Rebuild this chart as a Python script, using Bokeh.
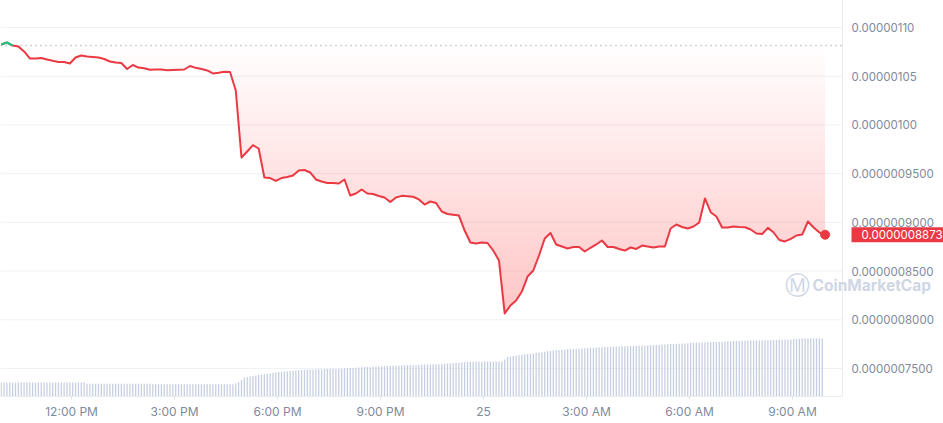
import numpy as np
from bokeh.plotting import figure
from bokeh.models import Range1d, Label, Span
from bokeh.core.properties import value
from bokeh.embed import file_html
from bokeh.resources import INLINE

# ---------------- data ----------------
TICK_HOURS = [12, 15, 18, 21, 24, 27, 30, 33]          # hours since 00:00 on the 24th
TICK_LABELS = ["12:00 PM", "3:00 PM", "6:00 PM", "9:00 PM", "25", "3:00 AM", "6:00 AM", "9:00 AM"]
Y_TICKS = [1.10e-6, 1.05e-6, 1.00e-6, 0.95e-6, 0.90e-6, 0.85e-6, 0.80e-6, 0.75e-6]
Y_LABELS = ["0.00000110", "0.00000105", "0.00000100", "0.0000009500",
            "0.0000009000", "0.0000008500", "0.0000008000", "0.0000007500"]
OPEN_PRICE = 1.0815e-6
LAST_LABEL = "0.0000008873"
START_HOUR = 9.95           # 09:57 on the 24th
PRICE_STEP_MIN = 10
VOL_STEP_MIN = 5

# price in units of 1e-6, one value every 10 minutes
PRICE_MICRO = [
    1.0826, 1.0846, 1.0815, 1.0805, 1.0754, 1.0682, 1.0682, 1.0687, 1.0672, 1.0658,
    1.0646, 1.0646, 1.0631, 1.0692, 1.0713, 1.0702, 1.0697, 1.0692, 1.0677, 1.0651,
    1.0641, 1.0636, 1.0574, 1.0615, 1.0589, 1.0581, 1.0567, 1.0569, 1.0570, 1.0561,
    1.0564, 1.0567, 1.0569, 1.0605, 1.0586, 1.0574, 1.0559, 1.0528, 1.0535, 1.0545,
    1.0543, 1.0353, 0.9666, 0.9727, 0.9792, 0.9758, 0.9460, 0.9455, 0.9425, 0.9455,
    0.9466, 0.9481, 0.9532, 0.9537, 0.9512, 0.9440, 0.9419, 0.9404, 0.9404, 0.9399,
    0.9440, 0.9276, 0.9296, 0.9337, 0.9296, 0.9291, 0.9271, 0.9255, 0.9209, 0.9255,
    0.9272, 0.9267, 0.9263, 0.9235, 0.9183, 0.9214, 0.9199, 0.9111, 0.9086, 0.9078,
    0.9070, 0.8916, 0.8793, 0.8783, 0.8793, 0.8788, 0.8711, 0.8609, 0.8065, 0.8147,
    0.8198, 0.8290, 0.8444, 0.8506, 0.8660, 0.8834, 0.8891, 0.8773, 0.8752, 0.8732,
    0.8747, 0.8747, 0.8701, 0.8739, 0.8773, 0.8814, 0.8747, 0.8747, 0.8727, 0.8711,
    0.8742, 0.8727, 0.8762, 0.8752, 0.8742, 0.8752, 0.8752, 0.8937, 0.8978, 0.8952,
    0.8937, 0.8958, 0.8999, 0.9245, 0.9104, 0.9060, 0.8947, 0.8947, 0.8958, 0.8952,
    0.8950, 0.8927, 0.8886, 0.8881, 0.8944, 0.8896, 0.8819, 0.8804, 0.8831, 0.8865,
    0.8875, 0.9009, 0.8947, 0.8896, 0.8873,
]

# volume (arbitrary units), one bar every 5 minutes
VOLUME = [
    1.40, 1.40, 1.40, 1.40, 1.40, 1.40, 1.40, 1.40, 1.40, 1.40,
    1.40, 1.40, 1.40, 1.40, 1.40, 1.40, 1.40, 1.40, 1.40, 1.40,
    1.40, 1.40, 1.40, 1.40, 1.40, 1.40, 1.40, 1.40, 1.40, 1.40,
    1.28, 1.28, 1.28, 1.28, 1.28, 1.28, 1.28, 1.28, 1.28, 1.28,
    1.28, 1.28, 1.28, 1.28, 1.28, 1.28, 1.28, 1.28, 1.28, 1.28,
    1.28, 1.28, 1.28,
    1.22, 1.22, 1.22, 1.22, 1.22, 1.22, 1.22, 1.22, 1.22, 1.22,
    1.22, 1.22, 1.22, 1.22, 1.22, 1.22, 1.22, 1.22, 1.22, 1.22,
    1.22, 1.22, 1.22, 1.22, 1.22, 1.22, 1.22, 1.22, 1.22,
    1.30, 1.43, 1.65, 1.87, 1.95, 2.00, 2.05, 2.10, 2.15, 2.18,
    2.22, 2.28, 2.32, 2.37, 2.40, 2.44, 2.47, 2.50, 2.52, 2.55,
    2.58, 2.60, 2.62, 2.64, 2.66, 2.68, 2.69, 2.70,
    2.71, 2.72, 2.73, 2.74, 2.75, 2.75, 2.76, 2.76, 2.77, 2.77,
    2.80, 2.82, 2.84, 2.86, 2.88, 2.90, 2.92, 2.94, 2.95, 2.96, 2.97,
    2.98, 3.00, 3.02, 3.03, 3.05, 3.06, 3.07, 3.08, 3.10,
    3.10, 3.12, 3.13, 3.14, 3.15, 3.16, 3.17, 3.18, 3.19, 3.20, 3.21, 3.22, 3.22, 3.23,
    3.25, 3.27, 3.29, 3.31, 3.33, 3.35, 3.37, 3.40, 3.45, 3.48,
    3.50, 3.50, 3.50, 3.50, 3.50, 3.50, 3.50, 3.50, 3.50, 3.50, 3.50, 3.50,
    3.70, 3.95, 4.00, 4.05, 4.10, 4.15, 4.18, 4.22,
    4.25, 4.28, 4.31, 4.34, 4.37, 4.40, 4.45,
    4.53, 4.56, 4.59, 4.62, 4.65, 4.67,
    4.70, 4.72, 4.74, 4.76, 4.78, 4.79, 4.80,
    4.82, 4.84, 4.86, 4.88, 4.90, 4.92, 4.93,
    4.95, 4.96, 4.98, 4.99, 5.00, 5.01, 5.02, 5.03, 5.03,
    5.05, 5.06, 5.08, 5.09, 5.10, 5.11, 5.12, 5.13, 5.13,
    5.15, 5.17, 5.19, 5.21, 5.23, 5.24, 5.26, 5.27,
    5.28, 5.30, 5.31, 5.33, 5.34, 5.36, 5.37, 5.39, 5.40,
    5.41, 5.42, 5.43, 5.44, 5.45, 5.46, 5.48, 5.50, 5.52, 5.53,
    5.54, 5.55, 5.56, 5.57, 5.58, 5.58, 5.59, 5.59, 5.60, 5.60,
    5.61, 5.62, 5.63, 5.64, 5.65, 5.66, 5.67, 5.68, 5.69, 5.70, 5.70,
    5.72, 5.75, 5.78, 5.80, 5.80, 5.80, 5.80, 5.80, 5.80, 5.80, 5.80,
]

# ---------------- layout / styling ----------------
X_START, X_END = 9.93, 37.399        # visible hours across the whole width
X_EDGE = 34.457                      # right edge of the chart area (hours)
X_LABEL = 34.719                     # where price labels start (hours)
Y_BOTTOM, Y_TOP = 0.72126e-6, 1.12771e-6
VOL_TOP = 39.6

RED = "#ea3943"
GREEN = "#16c784"
LABEL_GRAY = "#808a9d"
GRID = "#eff2f5"
EDGE = "#e8ebef"
VOL_COLOR = "#c6cfe1"
FONT = "Inter"

price = np.array(PRICE_MICRO) * 1e-6
t_price = START_HOUR + np.arange(len(price)) * PRICE_STEP_MIN / 60.0
t_vol = START_HOUR + np.arange(len(VOLUME)) * VOL_STEP_MIN / 60.0

p = figure(width=943, height=423,
           x_range=Range1d(X_START, X_END),
           y_range=Range1d(Y_BOTTOM, Y_TOP),
           y_axis_location=None,
           output_backend="svg", toolbar_location=None,
           min_border_left=0, min_border_right=0,
           min_border_top=0, min_border_bottom=27)
p.extra_y_ranges = {"vol": Range1d(0, VOL_TOP)}
p.outline_line_color = None
p.background_fill_color = "white"
p.border_fill_color = "white"
p.xgrid.visible = False
p.ygrid.visible = False

# horizontal grid lines (stop at the chart's right edge)
n_ticks = len(Y_TICKS)
p.segment(x0=[X_START] * n_ticks, x1=[X_EDGE] * n_ticks, y0=Y_TICKS, y1=Y_TICKS,
          line_color=GRID, line_width=1)
# right edge of chart area
p.add_layout(Span(location=X_EDGE, dimension="height", line_color=EDGE, line_width=1))

# volume bars
p.vbar(x=t_vol, top=VOLUME, bottom=0, width=0.45 * VOL_STEP_MIN / 60.0,
       y_range_name="vol", fill_color=VOL_COLOR, line_color=None)

# gradient area between open price and line (stacked faint layers)
n_layers = 28
depth = OPEN_PRICE - price.min()
for k in range(n_layers):
    level = OPEN_PRICE - k * depth / n_layers
    p.varea(x=t_price, y1=np.minimum(price, level), y2=level,
            fill_color=RED, fill_alpha=0.0115)

# open price reference (dotted)
p.segment(x0=[X_START], x1=[X_EDGE], y0=[OPEN_PRICE], y1=[OPEN_PRICE],
          line_color="#a3a8b0", line_dash="1 4", line_width=1.3)

# price line
p.line(t_price, price, line_color=RED, line_width=2.0, line_join="round")
green = np.where(price >= OPEN_PRICE, price, np.nan)
p.line(t_price, green, line_color=GREEN, line_width=2.0, line_join="round")
p.scatter([t_price[-1]], [price[-1]], size=9, color=RED)

# price scale labels
p.text(x=[X_LABEL] * n_ticks, y=Y_TICKS, text=Y_LABELS,
       text_font=value(FONT), text_font_size="11.5px", text_color=LABEL_GRAY,
       text_align="left", text_baseline="middle")

# time axis
xa = p.xaxis[0]
xa.ticker = TICK_HOURS
xa.major_label_overrides = dict(zip(TICK_HOURS, TICK_LABELS))
xa.bounds = (X_START, X_EDGE)
xa.axis_line_color = EDGE
xa.major_tick_line_color = "#dde1e7"
xa.major_tick_in = 0
xa.major_tick_out = 3
xa.minor_tick_line_color = None
xa.major_label_standoff = 4
xa.major_label_text_font = FONT
xa.major_label_text_font_size = "12px"
xa.major_label_text_color = LABEL_GRAY

# watermark
p.add_layout(Label(x=797, y=111, x_units="screen", y_units="screen", text="Ⓜ",
                   text_align="center", text_baseline="middle",
                   text_font="DejaVu Sans", text_font_size="25px", text_color="#cfd6e4"))
p.add_layout(Label(x=812, y=111, x_units="screen", y_units="screen", text="CoinMarketCap",
                   text_align="left", text_baseline="middle",
                   text_font=FONT, text_font_size="15.5px", text_font_style="bold",
                   text_color="#cfd6e4"))

# last price tag
p.add_layout(Label(x=X_LABEL, y=price[-1], text=LAST_LABEL,
                   text_align="left", text_baseline="middle",
                   text_font=FONT, text_font_size="11.5px",
                   text_color="white", background_fill_color=RED,
                   padding=dict(left=10, right=6, top=3, bottom=3)))

open("out.html", "w").write(file_html(p, INLINE))
